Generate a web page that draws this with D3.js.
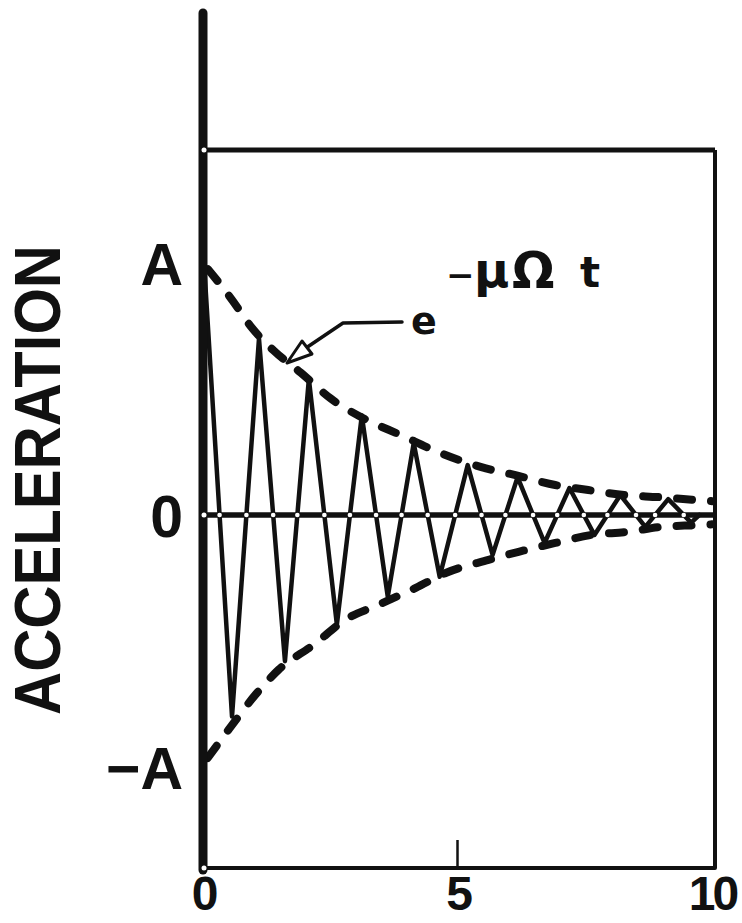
<!DOCTYPE html>
<html>
<head>
<meta charset="utf-8">
<script src="https://cdn.jsdelivr.net/npm/d3@7"></script>
<style>
  html, body { margin: 0; padding: 0; background: #fff; }
  svg { display: block; }
</style>
</head>
<body>
<svg id="chart" width="742" height="923"></svg>
<script>
// Damped oscillation: time (periods) vs acceleration, normalised to A
const timeTicks = [0, 5, 10];
const innerTicks = [5];
const levelValues = [1, 0, -1];
const levelNames = ["A", "0", "\u2212A"];

// peaks and troughs of the acceleration trace
const traceTime = [0.02, 0.57, 1.10, 1.61, 2.08, 2.63, 3.12, 3.63, 4.14, 4.65, 5.20,
                   5.69, 6.18, 6.71, 7.20, 7.69, 8.20, 8.69, 9.14, 9.59, 9.75];
const traceAccel = [1.00, -0.80, 0.70, -0.58, 0.54, -0.435, 0.395, -0.324, 0.285, -0.245, 0.198,
                    -0.158, 0.150, -0.111, 0.107, -0.079, 0.079, -0.047, 0.063, -0.030, 0.0];

// decay envelope, upper and lower
const upperTime = [0.0, 0.57, 0.96, 1.39, 1.92, 2.51, 3.12, 3.90, 4.63, 5.47, 6.14, 6.92, 7.57, 8.29, 8.94, 9.73, 10.0];
const upperEnv  = [1.0, 0.854, 0.743, 0.652, 0.565, 0.462, 0.387, 0.316, 0.249, 0.190, 0.158, 0.119, 0.099, 0.079, 0.071, 0.059, 0.055];
const lowerTime = [0.0, 0.51, 1.04, 1.49, 2.18, 2.80, 3.45, 4.18, 4.78, 5.61, 6.20, 6.92, 7.63, 8.35, 9.00, 9.73, 10.0];
const lowerEnv  = [-0.99, -0.85, -0.711, -0.613, -0.514, -0.415, -0.356, -0.289, -0.229, -0.178, -0.146, -0.111, -0.079, -0.067, -0.047, -0.040, -0.037];

const svg = d3.select("#chart");
const ink = "#111";

const frame = { left: 203, right: 715, top: 150, bottom: 868, axisTop: 13 };
const x = d3.scaleLinear().domain([0, 10]).range([203, 712]);
const y = d3.scaleLinear().domain([-1, 1]).range([767, 263]);

// frame: top, right, bottom edges
svg.append("line").attr("x1", frame.left).attr("x2", frame.right)
  .attr("y1", frame.top).attr("y2", frame.top)
  .attr("stroke", ink).attr("stroke-width", 5);
svg.append("path")
  .attr("d", `M${frame.right},${frame.top} V${frame.bottom} H${frame.left}`)
  .attr("fill", "none").attr("stroke", ink).attr("stroke-width", 4)
  .attr("stroke-linejoin", "round");

// zero line
svg.append("line").attr("x1", frame.left).attr("x2", frame.right)
  .attr("y1", y(0)).attr("y2", y(0))
  .attr("stroke", ink).attr("stroke-width", 5.5);

// inner tick at t = 5
svg.selectAll(".itick").data(innerTicks).join("line")
  .attr("x1", d => x(d)).attr("x2", d => x(d))
  .attr("y1", frame.bottom).attr("y2", frame.bottom - 28)
  .attr("stroke", ink).attr("stroke-width", 2.5);

// envelopes
const envUpper = upperTime.map((t, i) => [t, upperEnv[i]]);
const envLower = lowerTime.map((t, i) => [t, lowerEnv[i]]);
const envLine = d3.line().x(d => x(d[0])).y(d => y(d[1])).curve(d3.curveMonotoneX);
[envUpper, envLower].forEach(env => {
  svg.append("path").attr("d", envLine(env))
    .attr("fill", "none").attr("stroke", ink).attr("stroke-width", 8)
    .attr("stroke-linecap", "round").attr("stroke-dasharray", "15 19")
    .attr("stroke-dashoffset", -8);
});

// oscillation trace
const trace = traceTime.map((t, i) => [t, traceAccel[i]]);
const traceLine = d3.line().x(d => x(d[0])).y(d => y(d[1]));
svg.append("path").attr("d", traceLine(trace))
  .attr("fill", "none").attr("stroke", ink).attr("stroke-width", 4.5)
  .attr("stroke-linejoin", "round").attr("stroke-linecap", "round");

// vertical axis (drawn over the trace start)
svg.append("line").attr("x1", frame.left).attr("x2", frame.left)
  .attr("y1", frame.axisTop).attr("y2", frame.bottom + 2)
  .attr("stroke", ink).attr("stroke-width", 9).attr("stroke-linecap", "round");

// light dots where the trace crosses the zero line
const crossings = [];
for (let i = 1; i < trace.length; i++) {
  const [t0, a0] = trace[i - 1], [t1, a1] = trace[i];
  if (a0 * a1 < 0) crossings.push(t0 + (t1 - t0) * a0 / (a0 - a1));
}
svg.selectAll(".cross").data(crossings).join("circle")
  .attr("cx", d => x(d)).attr("cy", y(0)).attr("r", 2.3).attr("fill", "#fff");
svg.selectAll(".corner").data([frame.top, y(0), frame.bottom]).join("circle")
  .attr("cx", frame.left + 1).attr("cy", d => d).attr("r", 2.5).attr("fill", "#fff");

// time axis labels
const xAxis = d3.axisBottom(x).tickValues(timeTicks).tickSize(0).tickFormat(d3.format("d"));
const gx = svg.append("g").attr("transform", `translate(0,${frame.bottom})`).call(xAxis);
gx.select(".domain").remove();
gx.selectAll("text")
  .attr("y", 42).attr("dy", 0)
  .attr("fill", ink)
  .style("font-family", "'Liberation Sans', Arial, sans-serif")
  .style("font-weight", "bold").style("font-size", "48px")
  .style("letter-spacing", "-3px");

// level labels
const yAxis = d3.axisLeft(y).tickValues(levelValues).tickSize(0)
  .tickFormat((d, i) => levelNames[i]);
const gy = svg.append("g").attr("transform", `translate(${183},0)`).call(yAxis);
gy.select(".domain").remove();
gy.selectAll("text")
  .attr("x", 0).attr("dy", "0.36em")
  .attr("fill", ink)
  .style("font-family", "'Liberation Sans', Arial, sans-serif")
  .style("font-weight", "bold").style("font-size", "59px")
  .attr("text-anchor", "end");

// axis title
svg.append("text")
  .attr("transform", "translate(60,480) rotate(-90)")
  .attr("text-anchor", "middle")
  .attr("textLength", 470).attr("lengthAdjust", "spacingAndGlyphs")
  .attr("fill", ink)
  .style("font-family", "'Liberation Sans', Arial, sans-serif")
  .style("font-weight", "bold").style("font-size", "64px")
  .text("ACCELERATION");

// envelope annotation: e^(-mu Omega t) with pointer
svg.append("path")
  .attr("d", "M402,322 L343,323 L300,352")
  .attr("fill", "none").attr("stroke", ink).attr("stroke-width", 3.5)
  .attr("stroke-linejoin", "round").attr("stroke-linecap", "round");
svg.append("path")
  .attr("d", "M287,363 L302,341 L312,354 Z")
  .attr("fill", "#fff").attr("stroke", ink).attr("stroke-width", 3)
  .attr("stroke-linejoin", "round");

svg.append("text")
  .attr("x", 424).attr("y", 334).attr("text-anchor", "middle")
  .attr("fill", ink)
  .style("font-family", "'DejaVu Sans', sans-serif")
  .style("font-weight", "bold").style("font-size", "38px")
  .text("e");

const expo = svg.append("text").attr("y", 287).attr("fill", ink)
  .style("font-family", "'DejaVu Sans', sans-serif").style("font-weight", "bold");
expo.append("tspan").attr("x", 446).style("font-size", "34px").text("\u2212");
expo.append("tspan").attr("x", 474).style("font-size", "48px").text("\u03bc");
expo.append("tspan").attr("x", 512).style("font-size", "50px").text("\u03a9");
expo.append("tspan").attr("x", 580).style("font-size", "42px").text("t");
</script>
</body>
</html>
